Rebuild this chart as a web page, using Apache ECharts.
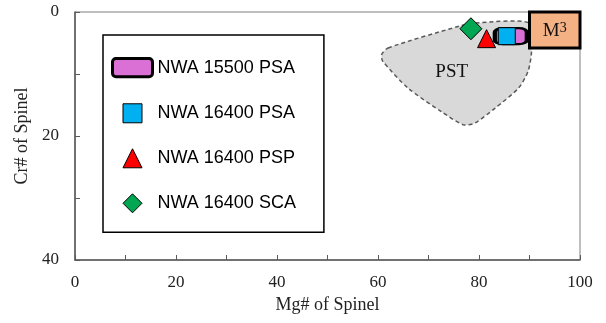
<!DOCTYPE html>
<html>
<head>
<meta charset="utf-8">
<script src="https://cdn.jsdelivr.net/npm/echarts@6/dist/echarts.min.js"></script>
<style>
  html, body { margin: 0; padding: 0; background: #fff; }
  #chart { width: 606px; height: 323px; }
</style>
</head>
<body>
<div id="chart"></div>
<script>
// spinel Mg# vs Cr# data
const seriesNames = ["NWA 15500 PSA", "NWA 16400 PSA", "NWA 16400 PSP", "NWA 16400 SCA"];
const psa15500 = [[86.3, 3.9]];
const psa16400 = [[85.5, 3.9]];
const psp16400 = [[81.5, 4.3]];
const sca16400 = [[78.4, 2.7]];

// PST field outline (Mg#, Cr#)
const pstX = [62.0, 76.0, 79.0, 90.1, 90.4, 89.7, 87.8, 83.2, 79.2, 76.9, 72.6, 66.0, 61.0, 60.7];
const pstY = [5.8, 2.3, 1.8, 1.8, 6.4, 9.6, 12.3, 15.5, 17.9, 18.2, 16.1, 12.3, 8.0, 6.9];
const pstLabel = [74.6, 9.6];

// M3 field box [x0, y0, x1, y1]
const m3Box = [90, 0, 100, 5.8];

// ticks every 10, labels every 20
const xRange = [0, 100];
const yRange = [0, 40];
const tickStep = 10;
const labelStep = 20;

const serif = "'Liberation Serif', 'Times New Roman', serif";
const sans = "'Liberation Sans', Arial, sans-serif";

let chart = echarts.init(document.getElementById("chart"));

const tickLabel = function (v) {
  return v % labelStep === 0 ? String(v) : "";
};

const option = {
  animation: false,
  grid: {
    left: 75,
    right: 26,
    top: 12,
    bottom: 63,
    show: true,
    borderColor: "#7f7f7f",
    borderWidth: 1,
  },
  legend: {
    orient: "vertical",
    left: 103,
    top: 35,
    selectedMode: false,
    itemWidth: 40,
    itemHeight: 19,
    itemGap: 25,
    padding: [22, 28, 19, 8],
    borderColor: "#000",
    borderWidth: 1.5,
    textStyle: { fontFamily: sans, fontSize: 18, color: "#000" },
    data: [
      {
        name: seriesNames[0],
        icon: "path://M3,0H32A3,3 0 0 1 35,3V13A3,3 0 0 1 32,16H3A3,3 0 0 1 0,13V3A3,3 0 0 1 3,0Z",
        itemStyle: { borderWidth: 3 },
      },
      { name: seriesNames[1], icon: "path://M0,0H1V1H0Z", itemStyle: { borderWidth: 1 } },
      { name: seriesNames[2], icon: "path://M1,0L2,2L0,2Z", itemStyle: { borderWidth: 1 } },
      { name: seriesNames[3], icon: "path://M1,0L2,1L1,2L0,1Z", itemStyle: { borderWidth: 1 } },
    ],
  },
  xAxis: {
    type: "value",
    min: xRange[0],
    max: xRange[1],
    interval: tickStep,
    name: "Mg# of Spinel",
    nameLocation: "middle",
    nameGap: 32,
    nameTextStyle: { fontFamily: serif, fontSize: 18, color: "#222" },
    axisLine: { show: true, onZero: false, lineStyle: { color: "#595959", width: 1.5 } },
    axisTick: { show: true, inside: true, length: 5, lineStyle: { color: "#595959" } },
    axisLabel: { margin: 14, fontFamily: serif, fontSize: 17, color: "#222", formatter: tickLabel },
    splitLine: { show: false },
  },
  yAxis: {
    type: "value",
    inverse: true,
    min: yRange[0],
    max: yRange[1],
    interval: tickStep,
    name: "Cr# of Spinel",
    nameLocation: "middle",
    nameRotate: 90,
    nameGap: 37,
    nameTextStyle: { fontFamily: serif, fontSize: 18, color: "#222" },
    axisLine: { show: true, onZero: false, lineStyle: { color: "#595959", width: 1.5 } },
    axisTick: { show: true, inside: true, length: 5, lineStyle: { color: "#595959" } },
    axisLabel: { margin: 16, fontFamily: serif, fontSize: 17, color: "#222", formatter: tickLabel },
    splitLine: { show: false },
  },
  series: [
    // PST 区域
    {
      name: "PST",
      type: "custom",
      silent: true,
      z: 1,
      data: pstX.map((x, i) => [x, pstY[i]]),
      renderItem: function (params, api) {
        if (params.dataIndex !== 0) return null;
        const pts = pstX.map((x, i) => api.coord([x, pstY[i]]));
        const lp = api.coord(pstLabel);
        return {
          type: "group",
          children: [
            {
              type: "polygon",
              shape: { points: pts, smooth: 0.25 },
              style: { fill: "#d9d9d9", stroke: "#595959", lineWidth: 1.5, lineDash: [4, 3] },
            },
            {
              type: "text",
              x: lp[0],
              y: lp[1],
              style: {
                text: "PST",
                fontFamily: serif,
                fontSize: 19,
                fill: "#111",
                align: "center",
                verticalAlign: "middle",
              },
            },
          ],
        };
      },
    },
    // M3 框
    {
      name: "M3",
      type: "custom",
      silent: true,
      z: 3,
      encode: { x: [0, 2], y: [1, 3] },
      data: [m3Box],
      renderItem: function (params, api) {
        const p0 = api.coord([api.value(0), api.value(1)]);
        const p1 = api.coord([api.value(2), api.value(3)]);
        return {
          type: "group",
          children: [
            {
              type: "rect",
              shape: { x: p0[0], y: p0[1], width: p1[0] - p0[0], height: p1[1] - p0[1] },
              style: { fill: "#f4b183", stroke: "#000", lineWidth: 3 },
            },
            {
              type: "text",
              x: (p0[0] + p1[0]) / 2,
              y: (p0[1] + p1[1]) / 2 + 1,
              style: {
                text: "{m|M}{s|3}",
                align: "center",
                verticalAlign: "middle",
                rich: {
                  m: { fontFamily: serif, fontSize: 19, fill: "#111" },
                  s: { fontFamily: serif, fontSize: 14, fill: "#111", verticalAlign: "top" },
                },
              },
            },
          ],
        };
      },
    },
    {
      name: seriesNames[0],
      type: "scatter",
      z: 4,
      data: psa15500,
      symbol: "roundRect",
      symbolSize: [32, 16],
      itemStyle: { color: "#da6fd6", borderColor: "#000", borderWidth: 3, opacity: 1 },
    },
    {
      name: seriesNames[1],
      type: "scatter",
      z: 5,
      data: psa16400,
      symbol: "rect",
      symbolSize: [17, 17],
      itemStyle: { color: "#00b0f0", borderColor: "#000", borderWidth: 1, opacity: 1 },
    },
    {
      name: seriesNames[2],
      type: "scatter",
      z: 5,
      data: psp16400,
      symbol: "triangle",
      symbolSize: [18, 18],
      itemStyle: { color: "#ff0000", borderColor: "#000", borderWidth: 1, opacity: 1 },
    },
    {
      name: seriesNames[3],
      type: "scatter",
      z: 5,
      data: sca16400,
      symbol: "diamond",
      symbolSize: [22, 22],
      itemStyle: { color: "#00a651", borderColor: "#000", borderWidth: 1, opacity: 1 },
    },
  ],
};

chart.setOption(option);
</script>
</body>
</html>
